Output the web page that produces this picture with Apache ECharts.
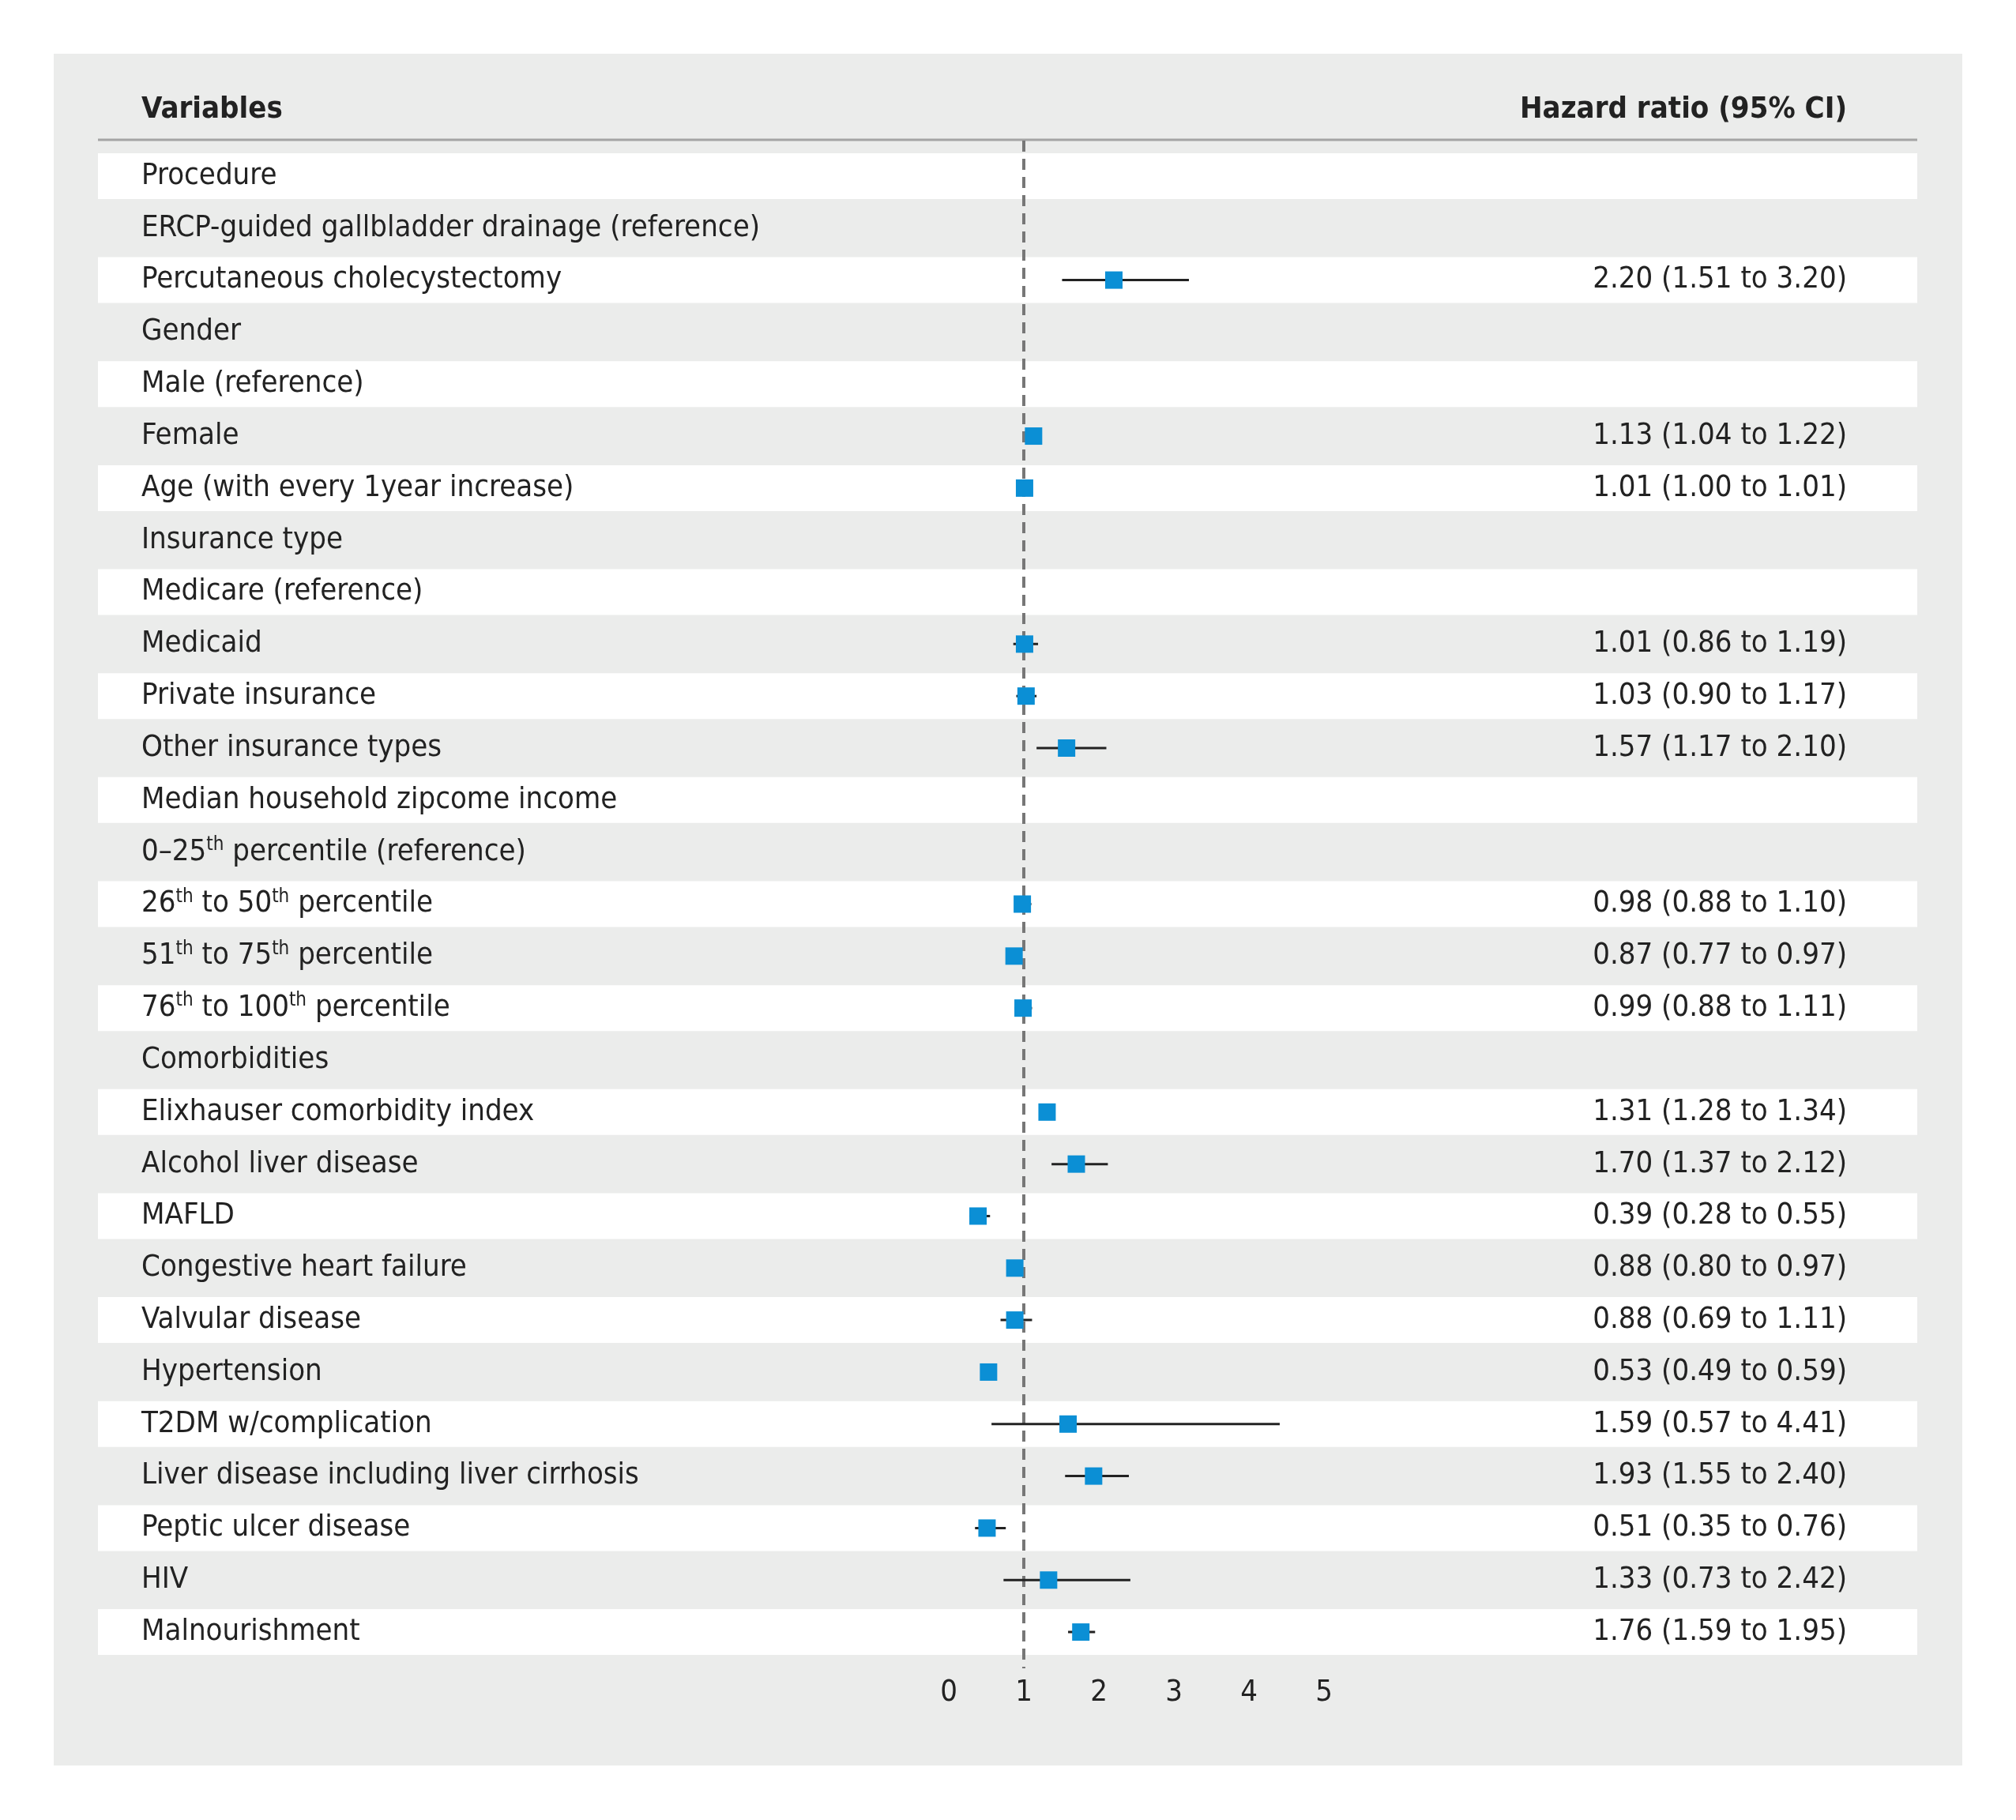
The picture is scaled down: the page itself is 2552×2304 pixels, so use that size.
<!DOCTYPE html>
<html>
<head>
<meta charset="UTF-8">
<title>Hazard ratio forest plot</title>
<script src="https://cdn.jsdelivr.net/npm/echarts@6/dist/echarts.min.js"></script>
<style>
  body { margin: 0; background: #fff; }
  #main { width: 2552px; height: 2304px; }
</style>
</head>
<body>
<div id="main"></div>
<script>
// row labels ({s|..} = superscript)
var labels = [
  'Procedure',
  'ERCP-guided gallbladder drainage (reference)',
  'Percutaneous cholecystectomy',
  'Gender',
  'Male (reference)',
  'Female',
  'Age (with every 1year increase)',
  'Insurance type',
  'Medicare (reference)',
  'Medicaid',
  'Private insurance',
  'Other insurance types',
  'Median household zipcome income',
  '0–25{s|th} percentile (reference)',
  '26{s|th} to 50{s|th} percentile',
  '51{s|th} to 75{s|th} percentile',
  '76{s|th} to 100{s|th} percentile',
  'Comorbidities',
  'Elixhauser comorbidity index',
  'Alcohol liver disease',
  'MAFLD',
  'Congestive heart failure',
  'Valvular disease',
  'Hypertension',
  'T2DM w/complication',
  'Liver disease including liver cirrhosis',
  'Peptic ulcer disease',
  'HIV',
  'Malnourishment'
];
var hr = [null, null, 2.20, null, null, 1.13, 1.01, null, null, 1.01, 1.03, 1.57, null, null,
  0.98, 0.87, 0.99, null, 1.31, 1.70, 0.39, 0.88, 0.88, 0.53, 1.59, 1.93, 0.51, 1.33, 1.76];
var lo = [null, null, 1.51, null, null, 1.04, 1.00, null, null, 0.86, 0.90, 1.17, null, null,
  0.88, 0.77, 0.88, null, 1.28, 1.37, 0.28, 0.80, 0.69, 0.49, 0.57, 1.55, 0.35, 0.73, 1.59];
var hi = [null, null, 3.20, null, null, 1.22, 1.01, null, null, 1.19, 1.17, 2.10, null, null,
  1.10, 0.97, 1.11, null, 1.34, 2.12, 0.55, 0.97, 1.11, 0.59, 4.41, 2.40, 0.76, 2.42, 1.95];
var xTicks = [0, 1, 2, 3, 4, 5];

var FONT = "'Liberation Sans Narrow', 'DejaVu Sans Condensed', 'Noto Sans', sans-serif";
var rows = labels.map(function (l, i) { return i; });

function fmt(v) { return v.toFixed(2); }

var chart = echarts.init(document.getElementById('main'));
chart.setOption({
  backgroundColor: '#ffffff',
  animation: false,
  graphic: [
    { type: 'rect', shape: { x: 68, y: 68, width: 2416, height: 2167 }, style: { fill: '#ebeceb' }, z: -10 },
    { type: 'text', left: 179, top: 120, style: { text: 'Variables', font: 'bold 38px ' + FONT, fill: '#222' } },
    { type: 'text', right: 2552 - 2338, top: 120, style: { text: 'Hazard ratio (95% CI)', font: 'bold 38px ' + FONT, fill: '#222' } },
    { type: 'line', shape: { x1: 124, y1: 177, x2: 2427, y2: 177 }, style: { stroke: '#a4a4a4', lineWidth: 3 } }
  ],
  grid: [
    { left: 124, right: 125, top: 190, bottom: 205 },
    { left: 1201, width: 475, top: 190, bottom: 205 }
  ],
  xAxis: [
    { gridIndex: 0, type: 'value', min: 0, max: 1, show: false },
    {
      gridIndex: 1, type: 'value', min: 0, max: 5, interval: 1, offset: 13,
      axisLine: { lineStyle: { color: '#a6a6a6', width: 4 } },
      axisTick: { length: 36, lineStyle: { color: '#a6a6a6', width: 4 } },
      axisLabel: { fontSize: 38, fontFamily: FONT, color: '#222', margin: 12,
        formatter: function (v) { return xTicks.indexOf(v) >= 0 ? String(v) : ''; } },
      splitLine: { show: false }
    }
  ],
  yAxis: [
    { gridIndex: 0, type: 'category', data: rows, inverse: true, show: false },
    { gridIndex: 1, type: 'category', data: rows, inverse: true, show: false }
  ],
  series: [
    {
      // row bands + texts
      type: 'custom', xAxisIndex: 0, yAxisIndex: 0, z: 1,
      data: rows.map(function (i) { return [0, i]; }),
      renderItem: function (params, api) {
        var i = api.value(1);
        var p = api.coord([0, i]);
        var cs = params.coordSys;
        var kids = [];
        if (i % 2 === 0) {
          kids.push({ type: 'rect', shape: { x: cs.x, y: p[1] - 29, width: cs.width, height: 58 }, style: { fill: '#ffffff' } });
        }
        kids.push({ type: 'text', style: {
          text: labels[i], x: 179, y: p[1], verticalAlign: 'middle', align: 'left',
          font: '38px ' + FONT, fill: '#222',
          rich: { s: { fontSize: 24, fontFamily: FONT, fill: '#222', padding: [0, 0, 18, 0] } }
        } });
        if (hr[i] != null) {
          kids.push({ type: 'text', style: {
            text: fmt(hr[i]) + ' (' + fmt(lo[i]) + ' to ' + fmt(hi[i]) + ')',
            x: 2338, y: p[1], verticalAlign: 'middle', align: 'right',
            font: '38px ' + FONT, fill: '#222'
          } });
        }
        return { type: 'group', children: kids };
      }
    },
    {
      // reference line at HR = 1
      type: 'custom', xAxisIndex: 1, yAxisIndex: 1, z: 3,
      data: [[1, 0]],
      renderItem: function (params, api) {
        var cs = params.coordSys;
        var x = api.coord([1, 0])[0];
        return { type: 'line', shape: { x1: x, y1: 178, x2: x, y2: cs.y + cs.height + 13 },
          style: { stroke: '#777777', lineWidth: 4, lineDash: [14, 9] } };
      }
    },
    {
      // CI whiskers and point estimates
      type: 'custom', xAxisIndex: 1, yAxisIndex: 1, z: 4,
      data: rows.filter(function (i) { return hr[i] != null; }).map(function (i) { return [hr[i], i, lo[i], hi[i]]; }),
      renderItem: function (params, api) {
        var i = api.value(1);
        var pl = api.coord([api.value(2), i]);
        var ph = api.coord([api.value(3), i]);
        var pc = api.coord([api.value(0), i]);
        return { type: 'group', children: [
          { type: 'line', shape: { x1: pl[0], y1: pl[1], x2: ph[0], y2: ph[1] }, style: { stroke: '#222', lineWidth: 3 } },
          { type: 'rect', shape: { x: pc[0] - 11, y: pc[1] - 11, width: 22, height: 22 }, style: { fill: '#0b8fd5' } }
        ] };
      }
    }
  ]
});
</script>
</body>
</html>
